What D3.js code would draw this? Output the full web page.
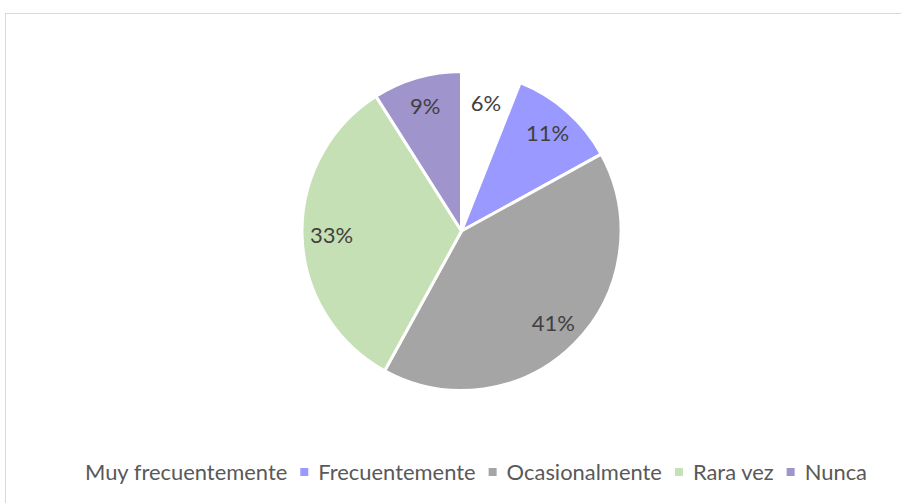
<!DOCTYPE html>
<html>
<head>
<meta charset="utf-8">
<script src="https://cdn.jsdelivr.net/npm/d3@7"></script>
<style>
  body { margin: 0; background: #fff; }
  svg text { font-family: 'Lato', 'Open Sans', sans-serif; }
</style>
</head>
<body>
<svg id="chart" width="901" height="503"></svg>
<script>
var categories = ['Muy frecuentemente', 'Frecuentemente', 'Ocasionalmente', 'Rara vez', 'Nunca'];
var values = [6, 11, 41, 33, 9];
var colors = ['#ffffff', '#9999ff', '#a5a5a5', '#c5e0b4', '#9f95cc'];

var width = 901, height = 503;
var svg = d3.select('#chart');

// chart frame (runs off the right / bottom edge)
svg.append('rect')
    .attr('x', 5.5).attr('y', 13.5)
    .attr('width', 1000).attr('height', 600)
    .style('fill', 'none').style('stroke', '#d9d9d9').style('stroke-width', 1);

var cx = 461.5, cy = 231, radius = 159.5;

var data = categories.map((c, i) => ({ name: c, value: values[i], color: colors[i] }));

var pie = d3.pie().value(d => d.value).sort(null);
var arc = d3.arc().innerRadius(0).outerRadius(radius);
var labelArc = d3.arc().innerRadius(130).outerRadius(130);

var g = svg.append('g').attr('transform', 'translate(' + cx + ',' + cy + ')');
var arcs = pie(data);

g.selectAll('path.slice')
    .data(arcs).enter().append('path')
    .attr('class', 'slice')
    .attr('d', arc)
    .style('fill', d => d.data.color)
    .style('stroke', '#ffffff')
    .style('stroke-width', 3)
    .style('stroke-linejoin', 'round');

g.selectAll('text.pct')
    .data(arcs).enter().append('text')
    .attr('class', 'pct')
    .attr('transform', d => 'translate(' + labelArc.centroid(d) + ')')
    .attr('text-anchor', 'middle')
    .attr('dy', '0.35em')
    .style('font-size', '22px')
    .style('fill', '#404040')
    .text(d => d.value + '%');

/*************************************************************************/
// legend: markers + labels, centred under the pie

var legend = svg.append('g');
var items = legend.selectAll('g.item')
    .data(data).enter().append('g').attr('class', 'item');

items.append('rect')
    .attr('width', 8).attr('height', 8)
    .attr('y', -4)
    .style('fill', d => d.color);

var labels = items.append('text')
    .attr('x', 18)
    .attr('dy', '0.36em')
    .style('font-size', '22px')
    .style('fill', '#595959')
    .text(d => d.name);

// squeeze the labels a bit (the original font is narrower)
var target = 800, gap = 13;
var raw = 0;
labels.each(function(){ raw += this.getComputedTextLength(); });
var squeeze = (target - data.length * 18 - (data.length - 1) * gap) / raw;

var x = 0;
items.each(function(d){
    var t = d3.select(this).select('text');
    var w = t.node().getComputedTextLength() * squeeze;
    t.attr('textLength', w).attr('lengthAdjust', 'spacingAndGlyphs');
    d3.select(this).attr('transform', 'translate(' + x + ',0)');
    x += 18 + w + gap;
});
var total = x - gap;
legend.attr('transform', 'translate(' + (467 - total / 2) + ',472)');
</script>
</body>
</html>
